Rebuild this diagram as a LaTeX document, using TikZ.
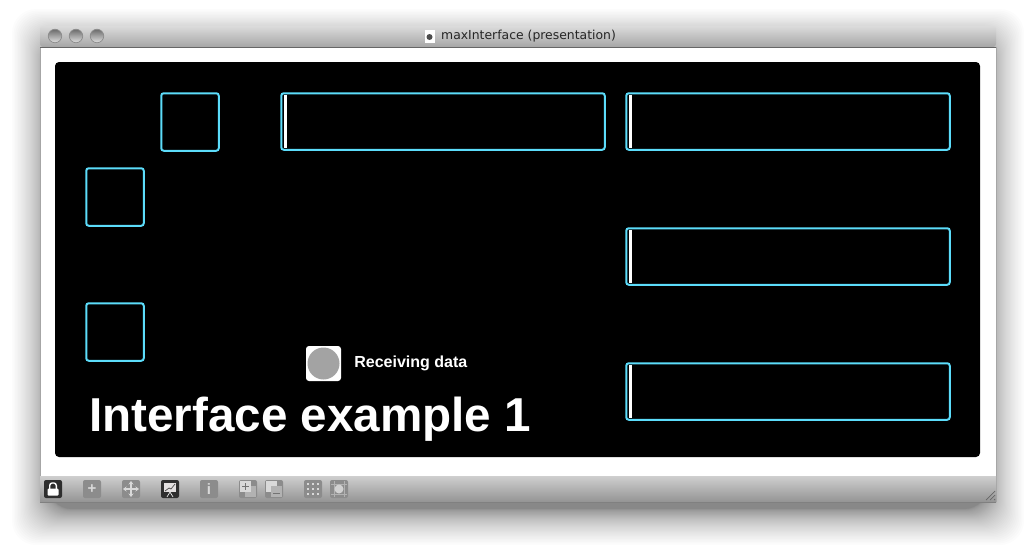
\documentclass[tikz,border=0pt]{standalone}
\usepackage{fontspec}
\setmainfont{Liberation Sans}
\newfontfamily\titlefont{DejaVu Sans}
\usetikzlibrary{arrows.meta, positioning, calc}
\definecolor{wirecyan}{HTML}{5CDCFA}
\definecolor{toolgray}{HTML}{8C8C8C}
\definecolor{tooldark}{HTML}{2E2E2E}

\begin{document}
\begin{tikzpicture}[
    x=1pt, y=-1pt,
    numbox/.style={draw=wirecyan, line width=2pt, rounded corners=2.5pt, minimum width=57.5pt, minimum height=57.5pt, inner sep=0pt, outer sep=0pt},
    msgbox/.style={draw=wirecyan, line width=2pt, rounded corners=2.5pt, minimum width=323.5pt, minimum height=56.5pt, inner sep=0pt, outer sep=0pt},
    caret/.style={fill=white, minimum width=3.4pt, minimum height=53pt, inner sep=0pt, outer sep=0pt},
    toolbtn/.style={fill=toolgray, rounded corners=2pt, minimum width=18pt, minimum height=18pt, inner sep=0pt, outer sep=0pt, text=black!15, font=\bfseries\fontsize{15}{15}\selectfont},
    toolon/.style={toolbtn, fill=tooldark, text=white},
    lightbtn/.style={circle, draw=black!45, line width=0.7pt, top color=black!58, bottom color=black!12, minimum size=13.5pt, inner sep=0pt}
]
\useasboundingbox (0,0) rectangle (1036,557);
\fill[white] (0,0) rectangle (1036,557);

% Soft shadow under the window
\foreach \i in {1,...,45} {
    \pgfmathsetmacro\r{36*(\i/45)^2}
    \fill[black, opacity=0.012, rounded corners=24pt] (48-\r, 45-\r) rectangle (988+\r, 509+\r);
}

% Window frame
\fill[white] (40,47) rectangle (996,476);
\draw[gray!70, line width=0.5pt] (40,47) -- (40,502) (996,47) -- (996,502);
\path[top color=black!14, bottom color=black!35, rounded corners=3pt] (40,26) -- (996,26) -- (996,47) -- (40,47) -- cycle;
\draw[black!60, line width=0.8pt] (40,47) -- (996,47);
\path[top color=black!19, bottom color=black!42] (40,476) rectangle (996,502);
\draw[black!50, line width=0.8pt] (40,502) -- (996,502);

% Title bar
\foreach \x/\name in {55/lightA, 76/lightB, 97/lightC} {
    \node[lightbtn] (\name) at (\x,36) {};
}
\node[fill=white, minimum width=10pt, minimum height=13pt, inner sep=0pt] (docicon) at (429.5,36) {};
\node[circle, fill=black!70, minimum size=6pt, inner sep=0pt] (docdot) at (429.5,37) {};
\node[anchor=west, inner sep=0pt, text=black!85, font=\titlefont\fontsize{12.4}{13}\selectfont] (wintitle) at (441,36.5) {maxInterface (presentation)};

% Black panel
\node[fill=black, rounded corners=4pt, minimum width=925pt, minimum height=395pt, inner sep=0pt, outer sep=0pt] (panel) at (517.5,259.5) {};

% Number boxes
\node[numbox] (numA) at (190,122) {};
\node[numbox] (numB) at (115,197) {};
\node[numbox] (numC) at (115,332) {};

% Message boxes
\node[msgbox] (msgA) at (443,121.5) {};
\node[msgbox] (msgB) at (788,121.5) {};
\node[msgbox] (msgC) at (788,256.5) {};
\node[msgbox] (msgD) at (788,391.5) {};
\foreach \name in {msgA, msgB, msgC, msgD} {
    \node[caret, anchor=west] at ($(\name.west)+(2.5,0)$) {};
}

% Status toggle
\node[fill=white, rounded corners=3pt, minimum size=35pt, inner sep=0pt] (toggle) at (323.5,363.5) {};
\node[circle, fill=black!36, minimum size=32pt, inner sep=0pt] (led) at (toggle) {};
\node[right=13pt of toggle, inner sep=0pt, text=white, font=\bfseries\fontsize{16}{17}\selectfont] (ledlabel) {Receiving data};

% Heading
\node[anchor=west, inner sep=0pt, text=white, font=\bfseries\fontsize{47.6}{50}\selectfont] (heading) at (89,419) {Interface example 1};

% Toolbar
\node[toolon]  (btnLock) at (53,489) {};
\fill[white, rounded corners=1pt] (47.5,488.5) rectangle (58.5,495.5);
\draw[white, line width=1.4pt, rounded corners=2.5pt] (49.7,489) -- (49.7,483) -- (56.3,483) -- (56.3,489);
\node[toolbtn] (btnAdd) at (92,489) {+};
\node[toolbtn] (btnMove) at (131,489) {};
\draw[black!15, line width=1.4pt, {Stealth[length=3.5pt,width=5pt]}-{Stealth[length=3.5pt,width=5pt]}] (123,489) -- (139,489);
\draw[black!15, line width=1.4pt, {Stealth[length=3.5pt,width=5pt]}-{Stealth[length=3.5pt,width=5pt]}] (131,481) -- (131,497);
\node[toolon]  (btnChart) at (170,489) {};
\fill[red!10!black!12] (164,483) rectangle (176,492);
\draw[black!70, line width=0.7pt] (165,491) -- (169,488) -- (171,489) -- (175,484);
\draw[black!10, line width=0.7pt] (170,492) -- (167,497) (170,492) -- (173,497);
\node[toolbtn] (btnInfo) at (209,489) {i};
\node[toolbtn] (btnFront) at (248,489) {};
\fill[black!30] (245,486) rectangle (256,497);
\fill[black!15] (240,481) rectangle (251,492);
\draw[black!55, line width=1pt] (242,486.5) -- (249,486.5) (245.5,483) -- (245.5,490);
\node[toolbtn] (btnBack) at (274,489) {};
\fill[black!15] (266,481) rectangle (277,492);
\fill[black!30] (271,486) rectangle (282,497);
\draw[black!55, line width=1pt] (273,493) -- (280,493);
\node[toolbtn] (btnGrid) at (313,489) {};
\foreach \i in {-5,0,5} {
    \foreach \j in {-5,0,5} {
        \fill[black!15] (313+\i-1,489+\j-1) rectangle (313+\i+1,489+\j+1);
    }
}
\node[toolbtn] (btnSnap) at (339,489) {};
\foreach \i in {-5,5} {
    \draw[black!30, line width=0.7pt] (339+\i,481) -- (339+\i,497) (331,489+\i) -- (347,489+\i);
}
\fill[black!18] (339,489) circle (4.5);

% Resize grip
\foreach \d in {0,4,8} {
    \draw[black!60, line width=0.7pt] (995,491+\d) -- (986+\d,500);
}
\end{tikzpicture}
\end{document}
